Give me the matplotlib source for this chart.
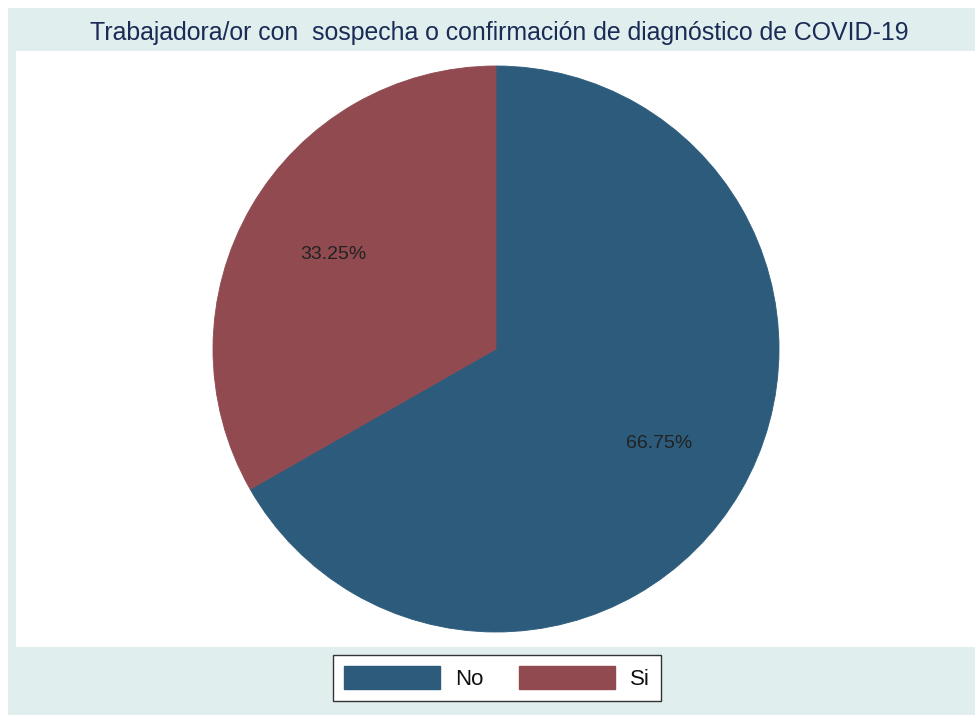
import matplotlib.pyplot as plt
from matplotlib.patches import Rectangle, Patch

# datos
categorias = ["No", "Si"]
porcentajes = [66.75, 33.25]
colores = ["#2c5b7c", "#904a50"]
titulo = "Trabajadora/or con  sospecha o confirmación de diagnóstico de COVID-19"

W, H = 975, 715
fig = plt.figure(figsize=(W / 100, H / 100), dpi=100)
fig.patch.set_facecolor("white")
plt.rcParams["font.family"] = ["Liberation Sans", "DejaVu Sans"]

# fondo tipo Stata
fig.patches.append(Rectangle((8 / W, 0), 1 - 8 / W, 1 - 8 / H,
                             transform=fig.transFigure, facecolor="#e0eeee",
                             edgecolor="none", zorder=0))
fig.patches.append(Rectangle((16 / W, 1 - 647 / H), 1 - 16 / W, (647 - 51) / H,
                             transform=fig.transFigure, facecolor="white",
                             edgecolor="none", zorder=0))

fig.text(499 / W, 1 - 33 / H, titulo, ha="center", va="center",
         fontsize=17.9, color="#1a2b55")

cx, cy, r = 496, 349, 283
ax = fig.add_axes([(cx - r) / W, 1 - (cy + r) / H, 2 * r / W, 2 * r / H])
ax.set_zorder(3)
wedges, texts = ax.pie(porcentajes, colors=colores, startangle=90, counterclock=False,
                       labels=[f"{p:.2f}%" for p in porcentajes], labeldistance=0.665,
                       wedgeprops=dict(linewidth=0.6),
                       textprops=dict(fontsize=14, color="#222222", ha="center", va="center"))
for w, c in zip(wedges, colores):
    w.set_edgecolor(c)
ax.set_xlim(-1, 1)
ax.set_ylim(-1, 1)
ax.set_aspect("equal")
ax.axis("off")

handles = [Patch(facecolor=c, edgecolor=c) for c in colores]
leg = fig.legend(handles, categorias, loc="center", bbox_to_anchor=(497 / W, 1 - 678 / H),
                 ncol=2, fontsize=16, handlelength=4.3, handleheight=1.2,
                 handletextpad=0.7, columnspacing=1.6, borderpad=0.5,
                 fancybox=False, frameon=True, framealpha=1, facecolor="white")
leg.get_frame().set_edgecolor("#333333")
leg.get_frame().set_linewidth(1.0)
leg.set_zorder(4)
for t in leg.get_texts():
    t.set_color("#111111")

fig.savefig("out.png", dpi=100)
